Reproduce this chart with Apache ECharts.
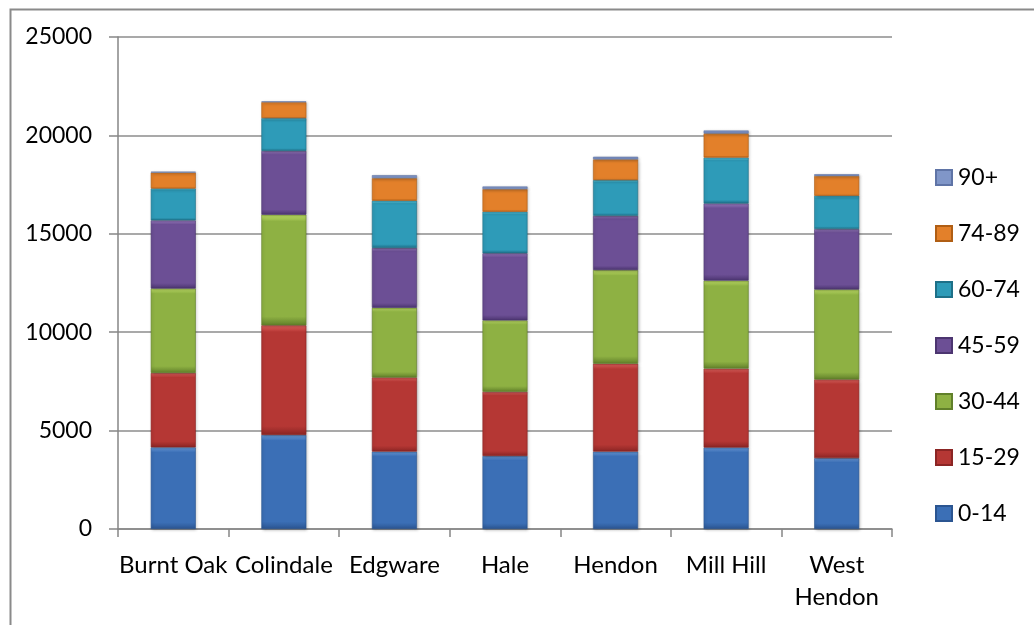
<!DOCTYPE html>
<html>
<head>
<meta charset="utf-8">
<script src="https://cdn.jsdelivr.net/npm/echarts@6/dist/echarts.min.js"></script>
<style>
html,body{margin:0;padding:0;background:#fff;}
#c{width:1034px;height:625px;}
</style>
</head>
<body>
<div id="c"></div>
<script>
const categories = ['Burnt Oak', 'Colindale', 'Edgware', 'Hale', 'Hendon', 'Mill Hill', 'West\nHendon'];
const seriesNames = ['0-14', '15-29', '30-44', '45-59', '60-74', '74-89', '90+'];
const age0_14  = [4150, 4780, 3930, 3710, 3930, 4140, 3600];
const age15_29 = [3780, 5570, 3770, 3260, 4470, 4010, 4000];
const age30_44 = [4290, 5620, 3540, 3630, 4760, 4470, 4570];
const age45_59 = [3460, 3240, 3040, 3410, 2750, 3920, 3070];
const age60_74 = [1620, 1670, 2400, 2110, 1820, 2330, 1690];
const age74_89 = [810, 810, 1150, 1150, 1050, 1230, 1010];
const age90    = [50, 40, 150, 135, 135, 150, 85];
const yTicks = [0, 5000, 10000, 15000, 20000, 25000];

const seriesData = [age0_14, age15_29, age30_44, age45_59, age60_74, age74_89, age90];
const palette = [
  ['#6fa4e6', '#3b6fb6', '#2b5591'],
  ['#e86662', '#b53734', '#8b2524'],
  ['#c6e66b', '#8eb143', '#61802a'],
  ['#a585cf', '#6c4f95', '#4c3570'],
  ['#66dcf2', '#2e9bb8', '#1e7088'],
  ['#ffb75b', '#e3802a', '#b05e14'],
  ['#b3c6ee', '#8096c8', '#5f74a6']
];
function grad(p) {
  return new echarts.graphic.LinearGradient(0, 0, 0, 1, [
    {offset: 0, color: p[0]},
    {offset: 0.06, color: p[1]},
    {offset: 0.92, color: p[1]},
    {offset: 1, color: p[2]}
  ]);
}
const FONT = 'Lato';
const chart = echarts.init(document.getElementById('c'), null, {renderer: 'canvas'});
chart.setOption({
  animation: false,
  backgroundColor: '#fff',
  graphic: [{
    type: 'rect', left: 8, top: 7, z: 100, silent: true,
    shape: {x: 0, y: 0, width: 1100, height: 700},
    style: {fill: 'none', stroke: '#8a8a8a', lineWidth: 2}
  }],
  grid: {left: 118, right: 142, top: 37, bottom: 96, containLabel: false},
  legend: {
    orient: 'vertical', left: 935, top: 166, padding: 0,
    itemWidth: 16, itemHeight: 15, itemGap: 33,
    data: seriesNames.slice().reverse(),
    textStyle: {fontFamily: FONT, fontSize: 23, color: '#000', padding: [0, 0, 0, 1]},
    icon: 'rect'
  },
  xAxis: {
    type: 'category', data: categories,
    axisLine: {lineStyle: {color: '#868686', width: 1.5}},
    axisTick: {show: true, length: 8, lineStyle: {color: '#868686', width: 1.5}},
    axisLabel: {interval: 0, fontFamily: FONT, fontSize: 24, color: '#000', margin: 20, lineHeight: 32}
  },
  yAxis: {
    type: 'value', min: 0, max: 25000, interval: 5000,
    axisLine: {show: true, lineStyle: {color: '#868686', width: 1.5}},
    axisTick: {show: true, length: 9, lineStyle: {color: '#868686', width: 1.5}},
    splitLine: {lineStyle: {color: '#8c8c8c', width: 1.5}},
    axisLabel: {fontFamily: FONT, fontSize: 23, color: '#000', margin: 26,
      formatter: v => yTicks.indexOf(v) >= 0 ? String(v) : ''}
  },
  series: seriesNames.map((n, i) => ({
    name: n, type: 'bar', stack: 'all', barWidth: 45,
    data: seriesData[i],
    itemStyle: {color: grad(palette[i]), borderColor: palette[i][2], borderWidth: 0.6,
      shadowBlur: 3, shadowColor: 'rgba(0,0,0,0.25)', shadowOffsetX: 1, shadowOffsetY: 1}
  }))
});
</script>
</body>
</html>
